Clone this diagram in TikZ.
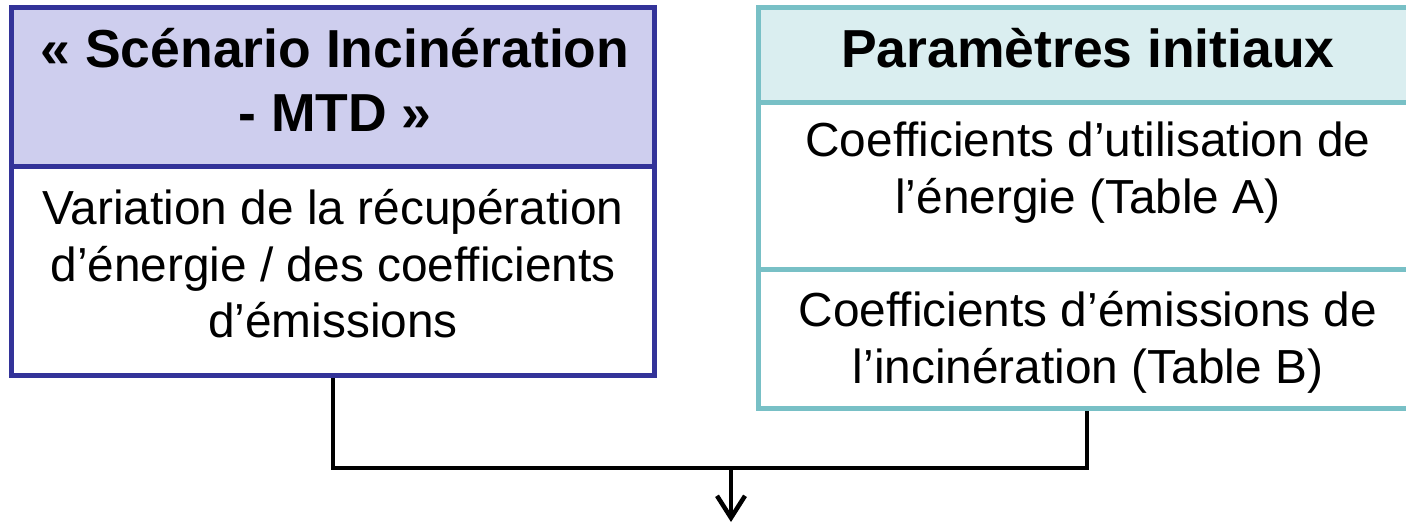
\documentclass[tikz,border=0pt]{standalone}
\usepackage{fontspec}
\setmainfont{Liberation Sans}
\usetikzlibrary{arrows.meta}

\definecolor{scenborder}{RGB}{51,51,153}
\definecolor{scenfill}{RGB}{206,206,238}
\definecolor{paramborder}{RGB}{120,192,198}
\definecolor{paramfill}{RGB}{218,238,240}

\newcommand{\lines}[1]{\begin{tabular}[t]{@{}c@{}}#1\end{tabular}}

\tikzset{
  x=1pt, y=-1pt,
  scenpart/.style={draw=scenborder, line width=5pt, rectangle, minimum width=642.5pt, inner sep=0pt},
  parampart/.style={draw=paramborder, line width=5pt, rectangle, minimum width=658pt, inner sep=0pt},
  titletext/.style={anchor=base, inner sep=0pt, font=\fontsize{53.5}{64}\selectfont\bfseries},
  bodytext/.style={anchor=base, inner sep=0pt, font=\fontsize{47.8}{56.5}\selectfont},
  conn/.style={line width=4.5pt, draw=black, miter limit=10}
}

\begin{document}
\begin{tikzpicture}
\useasboundingbox (0,0) rectangle (1406,526);

% scenario column
\node[scenpart, fill=scenfill, minimum height=159.5pt] (scen) at (332.75,87.25) {};
\node[scenpart, fill=white, minimum height=209pt] (scenbody) at (332.75,271.5) {};

% initial parameters column
\node[parampart, fill=paramfill, minimum height=95.5pt] (param) at (1087,55.25) {};
\node[parampart, fill=white, minimum height=167pt] (coefA) at (1087,186.5) {};
\node[parampart, fill=white, minimum height=139pt] (coefB) at (1087,339.5) {};

% texts
\node[titletext] (tscen) at (335,68) {\lines{« Scénario Incinération\\- MTD »}};
\node[bodytext] (tscenbody) at (333,225) {\lines{Variation de la récupération\\d’énergie / des coefficients\\d’émissions}};
\node[titletext] (tparam) at (1088,68) {Paramètres initiaux};
\node[bodytext] (tcoefA) at (1088,157) {\lines{Coefficients d’utilisation de\\l’énergie (Table A)}};
\node[bodytext] (tcoefB) at (1088,327) {\lines{Coefficients d’émissions de\\l’incinération (Table B)}};

% merging connector
\coordinate (join) at (731,468);
\coordinate (out) at (731,522);
\draw[conn] (scenbody.south) |- (join);
\draw[conn] (coefB.south) |- (join);
\draw[conn, -{Straight Barb[length=22pt, width=28pt]}] (join) -- (out);
\end{tikzpicture}
\end{document}
